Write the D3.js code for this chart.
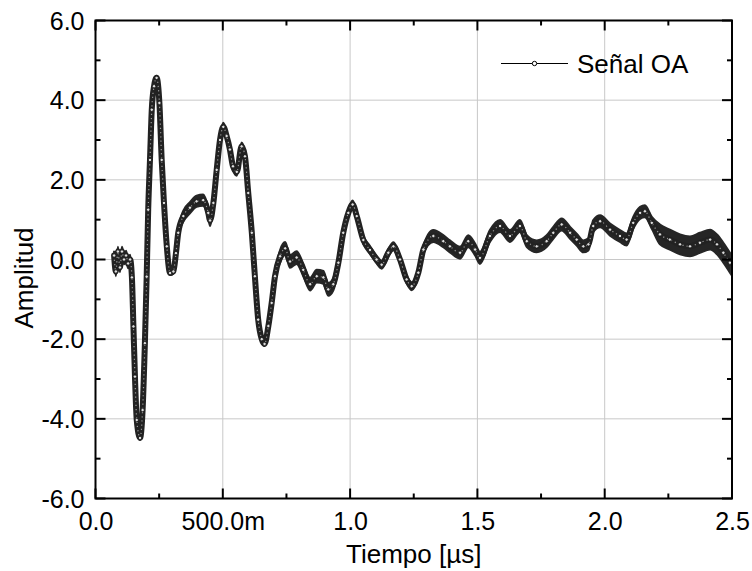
<!DOCTYPE html>
<html>
<head>
<meta charset="utf-8">
<script src="https://cdn.jsdelivr.net/npm/d3@7"></script>
<style>
  body { margin: 0; background: #fff; }
  svg text { font-family: "Liberation Sans", Arial, sans-serif; fill: #000; }
</style>
</head>
<body>
<div id="chart-area"></div>
<script>
// tiempo (us) y amplitud
var tiempo = [0.073, 0.080, 0.088, 0.096, 0.104, 0.112, 0.120, 0.128, 0.136, 0.143,
  0.149, 0.155, 0.162, 0.175, 0.185, 0.194, 0.201, 0.207, 0.214, 0.221,
  0.230, 0.240, 0.251, 0.260, 0.269, 0.280, 0.293, 0.306, 0.316, 0.325,
  0.345, 0.371, 0.397, 0.423, 0.443, 0.450, 0.463, 0.476, 0.489, 0.502,
  0.515, 0.528, 0.540, 0.555, 0.574, 0.587, 0.600, 0.614, 0.626, 0.639,
  0.653, 0.664, 0.679, 0.692, 0.705, 0.725, 0.745, 0.764, 0.790, 0.816,
  0.843, 0.869, 0.895, 0.914, 0.934, 0.954, 0.973, 0.993, 1.010, 1.026,
  1.052, 1.078, 1.104, 1.124, 1.150, 1.170, 1.196, 1.222, 1.242, 1.268,
  1.288, 1.327, 1.366, 1.392, 1.432, 1.464, 1.491, 1.510, 1.549, 1.589,
  1.628, 1.667, 1.694, 1.733, 1.772, 1.798, 1.831, 1.864, 1.890, 1.916,
  1.936, 1.955, 1.982, 2.021, 2.060, 2.086, 2.112, 2.139, 2.158, 2.185,
  2.217, 2.256, 2.296, 2.335, 2.374, 2.414, 2.441, 2.466, 2.492];
var amplitud = [0.1, -0.3, 0.2, -0.2, 0.2, 0.0, 0.1, -0.1, 0.0, -0.45,
  -1.68, -2.94, -4.03, -4.48, -3.78, -2.1, -0.43, 1.25, 2.5, 3.76,
  4.35, 4.56, 3.93, 2.5, 1.42, 0.33, -0.34, -0.3, 0.16, 0.67,
  1.09, 1.3, 1.46, 1.49, 1.17, 0.98, 1.42, 2.25, 3.0, 3.33,
  3.1, 2.76, 2.34, 2.2, 2.84, 2.59, 1.67, 0.67, -0.42, -1.51,
  -2.0, -2.12, -1.67, -1.09, -0.42, 0.08, 0.28, -0.05, 0.05, -0.26,
  -0.62, -0.42, -0.45, -0.75, -0.62, -0.08, 0.67, 1.17, 1.38, 1.09,
  0.49, 0.24, 0.0, -0.13, 0.17, 0.33, 0.0, -0.5, -0.67, -0.33,
  0.25, 0.59, 0.46, 0.33, 0.17, 0.46, 0.25, 0.04, 0.59, 0.84,
  0.59, 0.84, 0.46, 0.33, 0.46, 0.67, 0.88, 0.67, 0.5, 0.33,
  0.38, 0.84, 0.96, 0.75, 0.59, 0.5, 0.92, 1.17, 1.21, 0.92,
  0.63, 0.5, 0.38, 0.33, 0.42, 0.5, 0.38, 0.17, -0.08];

// ancho del ruido (semi-amplitud) por tramos
var bandaT = [0.07, 0.14, 0.33, 0.47, 0.62, 0.71, 0.96, 1.30, 2.20];
var bandaA = [0.12, 0.05, 0.14, 0.10, 0.05, 0.16, 0.10, 0.15, 0.25];

var xTicks = [0, 0.5, 1.0, 1.5, 2.0, 2.5];
var xMinor = [0.25, 0.75, 1.25, 1.75, 2.25];
var yTicks = [-6, -4, -2, 0, 2, 4, 6];
var yMinor = [-5, -3, -1, 1, 3, 5];
var serieName = "Señal OA";

var W = 752, H = 571;
var pL = 95.5, pR = 732, pT = 20.5, pB = 498.5;

var svg = d3.select("#chart-area").append("svg")
    .attr("width", W).attr("height", H);

var x = d3.scaleLinear().domain([0, 2.5]).range([pL, pR]);
var y = d3.scaleLinear().domain([-6, 6]).range([pB, pT]);

// grid
svg.append("g").selectAll("line").data(xTicks.slice(1, -1)).enter().append("line")
    .attr("x1", d => x(d)).attr("x2", d => x(d))
    .attr("y1", pT).attr("y2", pB)
    .attr("stroke", "#c8c8c8").attr("stroke-width", 1);
svg.append("g").selectAll("line").data(yTicks.slice(1, -1)).enter().append("line")
    .attr("x1", pL).attr("x2", pR)
    .attr("y1", d => y(d)).attr("y2", d => y(d))
    .attr("stroke", "#c8c8c8").attr("stroke-width", 1);

var data = tiempo.map(function(t, i) {
    var k = d3.bisectRight(bandaT, t) - 1;
    return {t: t, v: amplitud[i], b: bandaA[Math.max(k, 0)]};
});

var path = d3.line().x(d => x(d.t)).y(d => y(d.v)).curve(d3.curveMonotoneX);
var band = d3.area().x(d => x(d.t))
    .y0(d => y(d.v - d.b)).y1(d => y(d.v + d.b))
    .curve(d3.curveMonotoneX);

svg.append("path").datum(data)
    .attr("d", band)
    .attr("fill", "#262626")
    .attr("stroke", "#262626")
    .attr("stroke-width", 2);
svg.append("path").datum(data)
    .attr("d", path)
    .attr("fill", "none")
    .attr("stroke", "#222")
    .attr("stroke-width", 6)
    .attr("stroke-linejoin", "round")
    .attr("stroke-linecap", "round");
// textura de circulos huecos
svg.append("path").datum(data)
    .attr("d", path)
    .attr("fill", "none")
    .attr("stroke", "#9a9a9a")
    .attr("stroke-width", 1.2)
    .attr("stroke-dasharray", "1.2,3");

svg.append("g").selectAll("circle").data(data).enter().append("circle")
    .attr("cx", d => x(d.t)).attr("cy", d => y(d.v))
    .attr("r", 1.7)
    .attr("fill", "#ddd")
    .attr("stroke", "#111")
    .attr("stroke-width", 0.8);

// axes (labels)
function fmtX(d) { return d === 0.5 ? "500.0m" : d.toFixed(1); }
function fmtY(d) { return d.toFixed(1); }

var gx = svg.append("g").attr("transform", "translate(0," + pB + ")")
    .call(d3.axisBottom(x).tickValues(xTicks).tickSize(0).tickFormat(fmtX));
gx.selectAll("text").attr("y", 31.5).attr("dy", 0).style("font-size", "25px");

var gy = svg.append("g").attr("transform", "translate(" + pL + ",0)")
    .call(d3.axisLeft(y).tickValues(yTicks).tickSize(0).tickFormat(fmtY));
gy.selectAll("text").attr("x", -11).attr("dy", 8.5).style("font-size", "25px");
svg.selectAll(".domain").remove();

// inward ticks on all four sides
var tk = svg.append("g").attr("stroke", "#000").attr("stroke-width", 2);
function xt(vals, len) {
    tk.selectAll(null).data(vals).enter().append("line")
        .attr("x1", d => x(d)).attr("x2", d => x(d))
        .attr("y1", pB).attr("y2", pB - len);
    tk.selectAll(null).data(vals).enter().append("line")
        .attr("x1", d => x(d)).attr("x2", d => x(d))
        .attr("y1", pT).attr("y2", pT + len);
}
function yt(vals, len) {
    tk.selectAll(null).data(vals).enter().append("line")
        .attr("y1", d => y(d)).attr("y2", d => y(d))
        .attr("x1", pL).attr("x2", pL + len);
    tk.selectAll(null).data(vals).enter().append("line")
        .attr("y1", d => y(d)).attr("y2", d => y(d))
        .attr("x1", pR).attr("x2", pR - len);
}
xt(xTicks, 10); xt(xMinor, 5);
yt(yTicks, 10); yt(yMinor, 5);

svg.append("rect")
    .attr("x", pL).attr("y", pT)
    .attr("width", pR - pL).attr("height", pB - pT)
    .attr("fill", "none").attr("stroke", "#000").attr("stroke-width", 2);

// titles
svg.append("text")
    .attr("x", (pL + pR) / 2).attr("y", 563)
    .attr("text-anchor", "middle").style("font-size", "26px")
    .text("Tiempo [µs]");
svg.append("text")
    .attr("transform", "translate(33,278) rotate(-90)")
    .attr("text-anchor", "middle").style("font-size", "26px")
    .text("Amplitud");

// legend
var lg = svg.append("g");
lg.append("line").attr("x1", 501).attr("x2", 568).attr("y1", 63.5).attr("y2", 63.5)
    .attr("stroke", "#000").attr("stroke-width", 1);
lg.append("circle").attr("cx", 534.5).attr("cy", 63.5).attr("r", 2.2)
    .attr("fill", "#fff").attr("stroke", "#000").attr("stroke-width", 1);
lg.append("text").attr("x", 577).attr("y", 73)
    .style("font-size", "26px").text(serieName);
</script>
</body>
</html>
